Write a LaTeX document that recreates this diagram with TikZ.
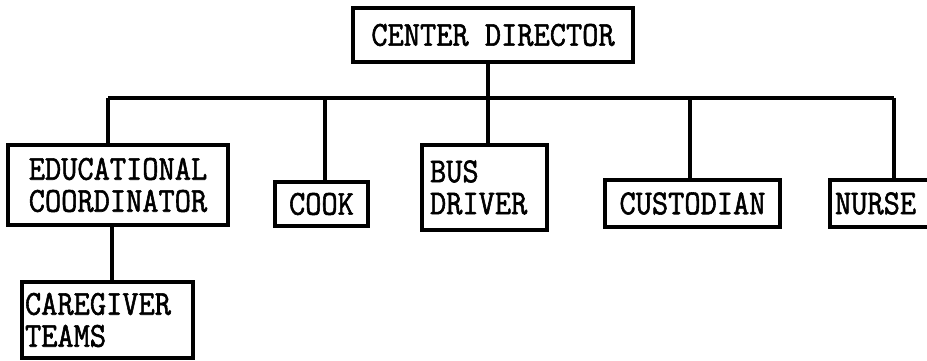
\documentclass[tikz,border=0pt]{standalone}
\usepackage{fontspec}
\newfontfamily\tw[FakeBold=1.6,FakeStretch=0.9]{Latin Modern Mono}
\begin{document}
\begin{tikzpicture}[x=1pt,y=-1pt,
  box/.style={draw, line width=3.4pt, inner ysep=0pt, inner xsep=4pt,
    font=\tw\fontsize{35}{32}\selectfont},
  link/.style={line width=3.4pt},
  bar/.style={line width=4.2pt}]
\useasboundingbox (0,0) rectangle (927,361);
\clip (0,0) rectangle (927,361);
% nodes
\node[box, minimum width=280pt, minimum height=54pt, align=center] (dir) at (493,35) {CENTER DIRECTOR};
\node[box, minimum width=220pt, minimum height=80pt, align=center] (ec) at (118,185) {EDUCATIONAL\\COORDINATOR};
\node[box, minimum width=93pt, minimum height=44pt, align=center] (cook) at (321.5,204) {COOK};
\node[box, minimum height=85pt, text width=109pt, inner xsep=8pt, align=left] (bus) at (484.5,187.5) {BUS\\DRIVER};
\node[box, minimum width=175pt, minimum height=47pt, align=center] (cust) at (692.5,203.5) {CUSTODIAN};
\node[box, minimum height=47pt, text width=100pt, inner xsep=5pt, align=left] (nurse) at (885,203.5) {NURSE};
\node[box, minimum height=76pt, text width=165pt, inner xsep=3pt, align=left] (ct) at (107.5,320) {CAREGIVER\\TEAMS};
% junction coordinates on the bar
\coordinate (jE) at (108,98);
\coordinate (jC) at (325,98);
\coordinate (jB) at (488,98);
\coordinate (jU) at (690,98);
\coordinate (jN) at (894,98);
\coordinate (jD) at (488,98);
% connectors
\draw[link] (dir.south -| jD) -- (jD);
\draw[bar] (jE) -- (jN);
\draw[link] (jE) -- (jE |- ec.north);
\draw[link] (jC) -- (jC |- cook.north);
\draw[link] (jB) -- (jB |- bus.north);
\draw[link] (jU) -- (jU |- cust.north);
\draw[link] (jN) -- (jN |- nurse.north);
\draw[link] ([xshift=-6pt]ec.south) -- ([xshift=-6pt]ec.south |- ct.north);
\end{tikzpicture}
\end{document}
